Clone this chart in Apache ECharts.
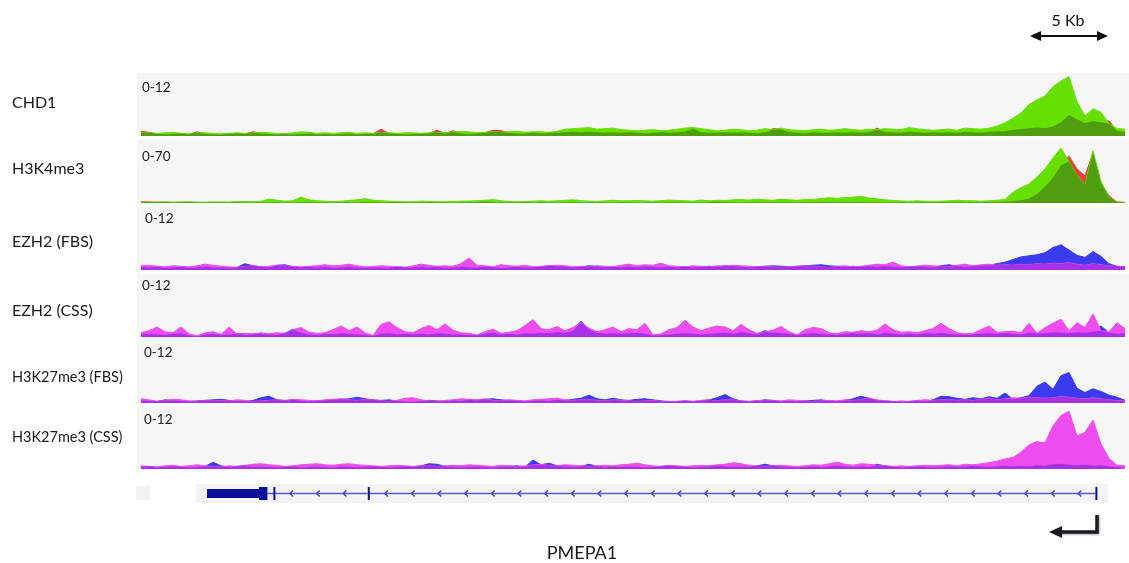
<!DOCTYPE html>
<html>
<head>
<meta charset="utf-8">
<title>PMEPA1 tracks</title>
<script src="https://cdn.jsdelivr.net/npm/echarts@6/dist/echarts.min.js"></script>
<style>
    html, body { margin: 0; padding: 0; background: #fff; }
    #chart { width: 1129px; height: 563px; }
</style>
</head>
<body>
<div id="chart"></div>
<script>
// track signal, one value per 8px bin (124 bins across the locus)
var chd1Green = [
    0.6,0.6,0.5,0.6,0.7,0.5,0.4,0.6,0.6,0.5,
    0.4,0.5,0.6,0.5,0.6,0.7,0.6,0.5,0.4,0.6,
    0.8,0.7,0.5,0.6,0.5,0.6,0.7,0.5,0.6,0.5,
    0.7,0.6,0.5,0.6,0.6,0.5,0.6,0.7,0.6,0.8,
    0.9,0.8,0.6,0.7,0.8,0.7,0.8,0.9,0.7,0.8,
    0.8,0.7,0.9,1.3,1.4,1.5,1.6,1.3,1.4,1.5,
    1.2,1.1,1.0,1.1,1.2,1.0,1.1,1.3,1.5,1.6,
    1.4,1.2,1.0,1.1,1.3,1.2,1.0,1.1,1.4,1.2,
    1.5,1.2,1.1,1.0,1.2,1.3,1.1,1.2,1.4,1.2,
    1.1,1.3,1.2,1.4,1.3,1.2,1.6,1.4,1.2,1.1,
    1.2,1.3,1.1,1.5,1.4,1.3,1.5,1.9,2.5,3.4,
    4.4,6.0,6.9,7.6,9.4,10.5,11.3,6.5,3.8,5.2,
    4.5,2.4,1.4,1.3
];
var chd1Red = [
    0.9,0.7,0.4,0.3,0.4,0.5,0.3,0.8,0.4,0.3,
    0.3,0.4,0.5,0.4,0.8,0.5,0.4,0.3,0.4,0.3,
    0.4,0.5,0.3,0.4,0.3,0.4,0.5,0.3,0.4,0.4,
    1.3,0.5,0.4,0.3,0.4,0.4,0.5,1.1,0.5,1.0,
    0.5,0.4,0.5,0.6,1.1,1.0,0.6,0.5,0.5,0.6,
    0.5,0.6,0.6,0.7,0.8,0.7,0.8,0.7,0.6,0.7,
    0.6,0.7,0.6,0.5,0.6,0.7,0.6,0.7,0.8,1.4,
    0.7,0.6,0.6,0.7,0.6,0.7,0.6,0.5,0.7,1.4,
    1.3,0.7,0.6,0.5,0.7,0.6,0.6,0.7,0.6,0.7,
    0.6,0.7,1.5,0.8,0.7,0.6,0.8,0.7,0.6,0.7,
    0.6,0.7,0.6,0.8,0.7,0.6,0.8,0.9,0.9,1.2,
    1.3,1.5,1.6,1.5,1.8,2.6,4.0,3.2,2.5,2.8,
    2.6,2.9,1.0,0.8
];
var h3k4Green = [
    1.0,0.8,1.0,1.2,0.9,1.0,1.2,1.0,0.8,1.0,
    1.2,1.0,1.4,1.6,1.5,2.0,4.4,3.0,2.2,2.4,
    6.6,3.5,2.5,2.0,1.5,2.0,2.8,3.5,4.8,3.2,
    2.5,2.0,1.6,1.4,1.5,2.0,1.8,1.4,1.5,1.6,
    2.0,2.2,2.5,3.0,3.8,2.5,1.8,1.4,1.6,2.0,
    2.5,2.0,2.4,3.0,3.5,2.6,2.0,1.8,2.4,3.0,
    2.4,2.5,2.8,2.4,2.0,2.6,3.2,2.8,2.5,2.0,
    3.2,2.5,3.0,2.8,3.5,3.8,3.2,4.4,3.5,3.0,
    4.2,3.6,3.0,3.8,4.0,5.0,5.9,5.2,6.0,6.5,
    7.4,5.5,4.6,3.5,2.8,2.2,2.0,2.4,2.0,1.8,
    2.0,2.4,3.0,2.6,2.4,2.0,2.5,3.0,4.0,12,
    17,21,29,38,50,61,46,31,20,58,
    24,6,1.0,0.8
];
var h3k4Red = [
    1.5,1.2,0.8,1.0,0.6,0.8,1.0,0.6,0.5,0.8,
    0.5,0.6,0.8,0.5,0.6,0.8,0.6,0.8,0.5,0.6,
    0.8,0.7,0.5,0.6,0.5,0.7,0.9,0.6,1.0,0.8,
    0.6,0.5,0.7,0.6,0.5,0.6,0.7,0.5,0.6,0.5,
    0.6,0.7,0.8,1.6,0.7,0.6,0.5,0.6,0.7,0.6,
    0.7,0.6,0.5,0.8,0.7,0.6,0.8,0.6,0.7,0.6,
    0.8,0.7,0.6,0.5,0.7,0.6,0.8,0.7,0.6,0.5,
    0.6,0.7,1.8,0.8,0.7,0.6,0.7,0.8,0.9,0.7,
    0.8,0.7,0.6,0.8,0.9,1.0,0.8,0.9,1.2,1.0,
    0.9,0.8,0.7,0.6,0.7,0.8,0.6,0.7,0.8,0.6,
    0.7,0.8,0.9,0.8,0.7,0.9,1.0,1.2,1.5,2.0,
    3,5,10,18,28,42,52,38,30,56,
    22,8,1.2,0.6
];
var ezh2FbsMagenta = [
    0.8,0.9,0.7,0.6,0.8,0.7,0.6,0.8,1.1,0.9,
    0.7,0.6,0.5,0.7,0.8,0.6,0.7,0.9,0.8,0.7,
    0.6,0.7,0.8,1.0,0.8,0.9,1.1,0.8,0.6,0.7,
    0.8,0.7,0.6,0.5,0.8,1.1,0.9,0.7,0.8,0.7,
    1.2,2.3,0.9,0.8,0.6,1.0,0.8,0.7,0.9,0.6,
    0.7,0.8,0.9,0.8,0.6,0.7,0.6,0.8,0.7,0.6,
    0.9,1.1,0.8,1.0,0.9,1.3,0.8,0.7,0.6,0.8,
    0.7,0.6,0.8,0.7,0.9,0.8,0.7,0.6,0.7,0.6,
    0.5,0.6,0.7,0.8,0.7,0.6,0.5,0.7,0.8,0.6,
    0.7,0.9,1.1,1.0,1.5,0.8,0.6,0.7,0.9,0.8,
    0.7,0.6,0.9,1.1,0.8,1.0,1.1,0.9,1.0,0.9,
    1.1,1.0,1.2,1.1,1.3,1.2,1.4,1.1,0.9,1.2,
    1.0,0.8,0.7,0.6
];
var ezh2FbsBlue = [
    0.6,0.5,0.6,0.4,0.5,0.6,0.4,0.5,0.6,0.5,
    0.5,0.4,0.5,1.2,0.8,0.6,0.5,0.9,1.0,0.6,
    0.5,0.6,0.5,0.6,0.4,0.5,0.6,0.5,0.4,0.5,
    0.5,0.4,0.6,0.5,0.5,0.6,0.5,0.6,0.4,0.5,
    0.6,0.5,0.5,0.6,0.5,0.4,0.5,0.6,0.5,0.5,
    0.6,0.8,0.7,0.6,0.5,0.6,0.8,0.7,0.5,0.6,
    0.5,0.6,0.5,0.7,0.6,0.5,0.6,0.5,0.6,0.5,
    0.6,0.7,0.6,0.8,0.7,0.6,0.5,0.6,0.7,0.8,
    0.7,0.6,0.7,0.8,0.9,1.0,0.8,0.7,0.6,0.7,
    0.6,0.7,0.6,0.7,0.6,0.5,0.6,0.7,0.6,0.5,
    0.8,1.0,0.7,0.6,0.7,0.8,0.9,1.2,1.5,2.0,
    2.5,2.7,2.9,3.3,4.3,4.8,3.8,2.8,2.4,3.5,
    2.6,1.2,0.7,0.6
];
var ezh2CssMagenta = [
    0.8,1.2,1.9,1.0,0.8,1.9,0.6,0.2,0.8,1.0,
    0.5,1.9,0.6,0.7,0.6,0.8,0.6,0.8,0.7,1.4,
    1.8,0.9,0.7,0.8,1.4,2.1,1.2,1.9,0.8,0.3,
    2.4,2.9,1.8,1.0,0.8,1.6,2.2,1.4,2.5,1.3,
    0.8,0.7,0.4,1.0,1.5,0.7,0.9,1.2,2.2,3.3,
    1.6,1.4,2.0,1.2,1.8,2.8,1.7,1.0,1.4,1.9,
    1.0,1.6,1.4,2.6,0.4,0.6,1.4,1.8,3.2,1.9,
    1.2,1.7,2.1,1.9,1.2,2.4,1.4,0.7,1.0,1.3,
    2.0,1.0,0.4,1.4,1.8,1.6,0.8,0.6,1.0,0.9,
    1.2,1.0,1.3,2.5,1.4,0.9,1.0,0.8,1.2,1.6,
    2.6,1.6,0.8,0.6,0.7,1.4,2.1,0.9,1.0,1.1,
    0.8,2.6,0.7,1.8,2.6,3.4,1.2,2.7,1.8,4.4,
    1.2,1.0,2.7,1.6
];
var ezh2CssBlue = [
    0.5,0.6,0.5,0.4,0.6,0.7,0.3,0.1,0.5,0.6,
    0.4,0.5,0.6,0.4,0.5,0.6,0.5,0.4,0.7,1.5,
    0.8,0.5,0.4,0.6,0.5,0.7,0.6,0.5,0.4,0.2,
    0.6,0.7,0.5,0.6,0.5,0.6,0.5,0.7,0.6,0.5,
    0.5,0.4,0.3,0.6,0.8,0.5,0.6,0.5,0.7,0.6,
    0.8,0.7,0.9,0.8,1.2,3.0,1.4,0.8,0.6,0.7,
    0.6,0.7,0.8,0.6,0.3,0.4,0.5,0.6,0.7,0.6,
    0.5,0.6,0.7,0.8,0.6,0.9,0.7,0.5,1.2,0.8,
    0.7,0.6,0.3,0.6,0.7,0.6,0.5,0.4,0.6,0.7,
    0.6,0.7,0.5,0.8,0.6,0.5,0.6,0.5,0.7,0.6,
    0.8,0.6,0.5,0.4,0.5,0.6,0.7,0.6,0.7,0.6,
    0.5,0.8,0.6,0.7,0.9,0.8,0.7,0.9,0.8,1.0,
    2.1,0.8,0.6,0.7
];
var h3k27FbsMagenta = [
    0.8,0.6,0.3,0.5,0.7,0.6,0.4,0.3,0.5,0.4,
    0.5,0.4,0.6,0.5,0.3,0.4,0.5,0.6,0.4,0.7,
    0.6,0.5,0.4,0.6,0.7,0.8,0.6,0.5,0.7,0.6,
    0.4,0.3,0.5,0.9,1.0,0.6,0.4,0.3,0.5,0.6,
    0.8,0.7,0.6,0.8,0.5,0.4,0.6,0.5,0.4,0.6,
    0.7,0.8,0.9,0.6,0.5,0.6,0.7,0.5,0.4,0.6,
    0.5,0.4,0.3,0.4,0.5,0.3,0.2,0.3,0.4,0.3,
    0.5,0.6,0.4,0.7,0.6,0.4,0.3,0.5,0.4,0.5,
    0.4,0.6,0.5,0.4,0.3,0.4,0.5,0.4,0.6,0.5,
    0.7,0.9,0.6,0.4,0.3,0.4,0.3,0.5,0.6,0.5,
    0.6,0.7,0.5,0.6,0.5,0.7,0.9,0.6,0.8,1.0,
    0.9,1.1,1.0,0.9,1.0,1.2,1.1,0.9,0.8,1.0,
    0.8,0.6,0.5,0.4
];
var h3k27FbsBlue = [
    0.5,0.4,0.3,0.6,0.5,0.4,0.3,0.4,0.5,0.6,
    0.7,0.5,0.4,0.3,0.5,1.0,1.3,0.6,0.5,0.6,
    0.4,0.3,0.4,0.5,0.6,0.7,0.8,1.1,0.8,0.6,
    0.5,0.6,0.4,0.3,0.2,0.4,0.5,0.4,0.3,0.5,
    0.4,0.6,0.5,0.7,0.8,0.6,0.5,0.4,0.3,0.4,
    0.5,0.4,0.6,0.5,0.7,0.9,1.5,0.8,0.6,0.9,
    0.6,0.5,0.7,0.8,0.6,0.4,0.3,0.3,0.4,0.3,
    0.4,0.6,1.0,1.6,0.8,0.4,0.3,0.4,0.6,0.5,
    0.3,0.4,0.3,0.4,0.5,0.6,0.4,0.3,0.5,0.8,
    1.3,0.9,0.5,0.4,0.3,0.2,0.3,0.4,0.3,0.6,
    1.3,1.2,0.9,0.7,1.0,0.8,1.2,0.9,1.9,0.7,
    1.0,1.4,3.2,4.0,2.6,5.2,5.8,2.8,2.0,2.7,
    2.2,1.5,1.1,0.5
];
var h3k27CssMagenta = [
    0.6,0.5,0.4,0.6,0.7,0.5,0.6,0.8,0.6,0.5,
    0.4,0.6,0.5,0.7,0.9,1.0,0.8,0.7,0.5,0.6,
    0.8,0.9,1.0,0.8,0.7,0.9,1.0,0.8,0.7,0.6,
    0.5,0.6,0.7,0.6,0.5,0.6,0.7,0.5,0.6,0.7,
    0.6,0.8,0.7,0.6,0.5,0.7,0.6,0.5,0.6,0.8,
    0.9,0.7,0.6,0.8,0.7,0.6,0.5,0.6,0.7,0.6,
    0.8,0.9,1.1,0.8,0.6,0.5,0.7,0.6,0.5,0.6,
    0.7,0.6,0.8,0.9,1.2,1.0,0.7,0.6,0.5,0.6,
    0.7,0.6,0.5,0.6,0.8,0.7,1.0,1.3,0.9,0.7,
    1.0,0.9,0.7,0.6,0.5,0.6,0.5,0.6,0.7,0.6,
    0.7,0.8,0.6,0.9,0.8,1.0,1.2,1.5,1.9,2.2,
    3.2,4.6,5.2,5.0,8.2,10.2,11.0,6.3,7.0,9.3,
    4.8,2.0,0.7,0.6
];
var h3k27CssBlue = [
    0.4,0.5,0.3,0.4,0.5,0.4,0.3,0.4,0.5,1.3,
    0.6,0.4,0.5,0.6,0.4,0.5,0.4,0.3,0.4,0.5,
    0.3,0.4,0.5,0.4,0.3,0.5,0.4,0.3,0.4,0.5,
    0.4,0.3,0.4,0.5,0.4,0.6,1.0,0.9,0.5,0.4,
    0.3,0.4,0.5,0.4,0.3,0.4,0.5,0.6,0.4,1.7,
    0.8,1.1,0.6,0.5,0.4,0.5,0.9,0.5,0.4,0.5,
    0.4,0.5,0.4,0.3,0.4,0.5,0.6,0.5,0.4,0.3,
    0.4,0.5,0.6,0.5,0.4,0.5,0.4,0.6,0.9,0.6,
    0.5,0.4,0.3,0.4,0.5,0.4,0.5,0.6,0.5,0.4,
    0.5,0.4,0.9,0.6,0.4,0.3,0.4,0.5,0.4,0.3,
    0.4,0.5,0.4,0.5,0.6,0.5,0.4,0.5,0.6,0.5,
    0.6,0.5,0.7,0.6,0.9,1.0,0.8,0.7,0.8,0.6,
    0.7,0.5,0.4,0.3
];

var trackNames  = ['CHD1', 'H3K4me3', 'EZH2 (FBS)', 'EZH2 (CSS)', 'H3K27me3 (FBS)', 'H3K27me3 (CSS)'];
var trackRanges = ['0-12', '0-70', '0-12', '0-12', '0-12', '0-12'];
var trackMax    = [12, 70, 12, 12, 12, 12];
var trackPairs  = [
    [chd1Green, chd1Red],
    [h3k4Green, h3k4Red],
    [ezh2FbsMagenta, ezh2FbsBlue],
    [ezh2CssMagenta, ezh2CssBlue],
    [h3k27FbsMagenta, h3k27FbsBlue],
    [h3k27CssMagenta, h3k27CssBlue]
];

// gene model of PMEPA1 in bin units (minus strand)
var geneExons   = [[8.75, 15.25, 'utr'], [15.25, 16.3, 'cds'], [17.05, 17.3, 'cds'], [28.85, 29.1, 'cds'], [119.8, 120.05, 'cds']];
var geneIntrons = [[16.3, 28.85], [29.1, 119.8]];
var geneName = 'PMEPA1';
var scaleLabel = '5 Kb';

var bins = chd1Green.map(function (v, i) { return i; });

// layout / styling
var tops      = [73, 140, 207, 274, 340, 406];
var trackH    = 63;
var nameY     = [103, 169, 242, 311, 377, 437];
var nameSize  = [16, 16, 16, 16, 14.5, 14.5];
var rangeX    = [142, 142, 145, 142, 144, 144];
var rangeY    = [88, 157, 219, 286, 353, 420];
var colorSets = [
    ['#66e000', '#e8403a', '#4f9e10'],
    ['#66e000', '#e8403a', '#4f9e10'],
    ['#ee4cee', '#3a3aee', '#a532e6'],
    ['#ee4cee', '#3a3aee', '#a532e6'],
    ['#ee4cee', '#3a3aee', '#a532e6'],
    ['#ee4cee', '#3a3aee', '#a532e6']
];
var FONT = 'Lato, "Open Sans", sans-serif';

function overlap(a, b) {
    return a.map(function (v, i) { return Math.min(v, b[i]); });
}

function areaSeries(idx, data, color, lw, z) {
    return {
        type: 'line',
        xAxisIndex: idx,
        yAxisIndex: idx,
        data: data,
        z: z,
        symbol: 'none',
        silent: true,
        lineStyle: {width: lw, color: color},
        areaStyle: {color: color, opacity: 1}
    };
}

var grids = [], xAxes = [], yAxes = [], series = [], graphics = [];

for (var i = 0; i < trackPairs.length; i++) {
    grids.push({
        left: 137, width: 992, top: tops[i], height: trackH,
        show: true, backgroundColor: '#f6f6f6', borderWidth: 0
    });
    xAxes.push({gridIndex: i, type: 'category', data: bins, boundaryGap: true, show: false});
    yAxes.push({gridIndex: i, type: 'value', min: 0, max: trackMax[i], show: false});

    var a = trackPairs[i][0], b = trackPairs[i][1], c = colorSets[i];
    series.push(areaSeries(i, b, c[1], 1, 2));
    series.push(areaSeries(i, a, c[0], 1, 3));
    series.push(areaSeries(i, overlap(a, b), c[2], 0, 4));

    graphics.push({
        type: 'text', x: 12, y: nameY[i],
        style: {text: trackNames[i], font: nameSize[i] + 'px ' + FONT, fill: '#1a1a1a', textVerticalAlign: 'middle'}
    });
    graphics.push({
        type: 'text', x: rangeX[i], y: rangeY[i], z: 10,
        style: {text: trackRanges[i], font: '13.5px ' + FONT, fill: '#1a1a1a', textVerticalAlign: 'middle'}
    });
}

// gene track
var g = trackPairs.length;
grids.push({left: 137, width: 992, top: 484, height: 19, show: false});
xAxes.push({gridIndex: g, type: 'value', min: 0, max: 124, show: false});
yAxes.push({gridIndex: g, type: 'value', min: -1, max: 1, show: false});

series.push({
    type: 'custom',
    xAxisIndex: g, yAxisIndex: g,
    silent: true,
    data: geneIntrons,
    renderItem: function (params, api) {
        var p0 = api.coord([api.value(0), 0]);
        var p1 = api.coord([api.value(1), 0]);
        var kids = [{
            type: 'line',
            shape: {x1: p0[0], y1: p0[1], x2: p1[0], y2: p1[1]},
            style: {stroke: '#5a5acc', lineWidth: 1.5}
        }];
        var step = 26.67;
        var n = Math.floor((p1[0] - p0[0]) / step);
        var mid = (p0[0] + p1[0]) / 2;
        for (var k = 0; k < n; k++) {
            var cx = mid - (n - 1) / 2 * step + k * step;
            kids.push({
                type: 'polyline',
                shape: {points: [[cx + 2, p0[1] - 3], [cx - 1, p0[1]], [cx + 2, p0[1] + 3]]},
                style: {stroke: '#4444cc', lineWidth: 1.5, fill: null}
            });
        }
        return {type: 'group', children: kids};
    }
});
series.push({
    type: 'custom',
    xAxisIndex: g, yAxisIndex: g,
    silent: true,
    z: 3,
    data: geneExons,
    renderItem: function (params, api) {
        var p0 = api.coord([api.value(0), 0]);
        var p1 = api.coord([api.value(1), 0]);
        var h = api.value(2) === 'utr' ? 9 : 13;
        var w = Math.max(p1[0] - p0[0], 2);
        return {
            type: 'rect',
            shape: {x: p0[0], y: p0[1] - h / 2, width: w, height: h},
            style: {fill: '#0b0f9c'}
        };
    }
});

graphics.push(
    {type: 'rect', z: -1, shape: {x: 196, y: 484, width: 912, height: 19}, style: {fill: '#f4f4f6'}},
    {type: 'rect', z: -1, shape: {x: 136, y: 486, width: 14, height: 14}, style: {fill: '#f2f2f2'}},
    // scale bar
    {type: 'text', x: 1068, y: 21, style: {text: scaleLabel, font: '16px ' + FONT, fill: '#111', textAlign: 'center', textVerticalAlign: 'middle'}},
    {type: 'line', shape: {x1: 1038, y1: 36, x2: 1100, y2: 36}, style: {stroke: '#111', lineWidth: 2}},
    {type: 'polygon', shape: {points: [[1030, 36], [1041, 31], [1041, 41]]}, style: {fill: '#111'}},
    {type: 'polygon', shape: {points: [[1108, 36], [1097, 31], [1097, 41]]}, style: {fill: '#111'}},
    // TSS arrow
    {type: 'polyline', shape: {points: [[1097, 515], [1097, 532], [1060, 532]]},
        style: {stroke: '#1b1b22', lineWidth: 3.5, fill: null, shadowColor: 'rgba(0,0,0,0.35)', shadowBlur: 2, shadowOffsetX: 1, shadowOffsetY: 1}},
    {type: 'polygon', shape: {points: [[1049, 532], [1062, 526], [1062, 538]]}, style: {fill: '#1b1b22'}},
    // gene name
    {type: 'text', x: 582, y: 553, style: {text: geneName, font: '18px ' + FONT, fill: '#1a1a1a', textAlign: 'center', textVerticalAlign: 'middle'}}
);

var chart = echarts.init(document.getElementById('chart'), null, {renderer: 'canvas'});
var option = {
    backgroundColor: '#ffffff',
    animation: false,
    grid: grids,
    xAxis: xAxes,
    yAxis: yAxes,
    series: series,
    graphic: graphics
};
chart.setOption(option);
</script>
</body>
</html>
